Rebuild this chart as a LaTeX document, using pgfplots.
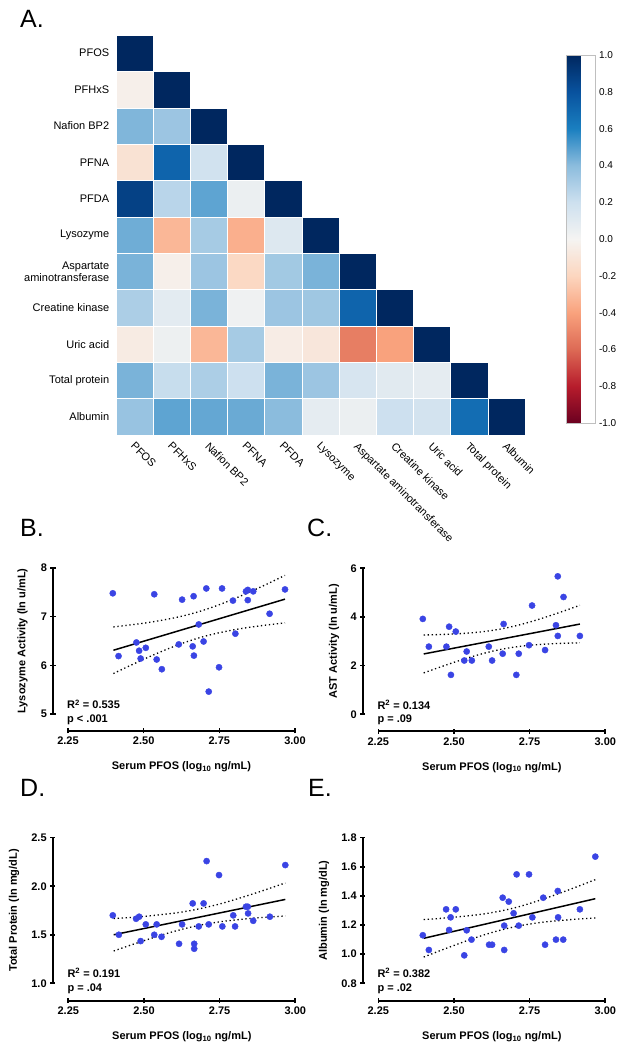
\documentclass[border=0pt]{standalone}
\usepackage{pgfplots}
\pgfplotsset{compat=1.18}
\usepackage{fontspec}
\setmainfont{Liberation Sans}
\definecolor{dotblue}{RGB}{58,68,228}

\pgfplotsset{
  dataax/.style={scale only axis, width=227pt, height=146pt, xmin=2.25, xmax=3.00,
    hide axis, clip=false, anchor=south west},
  common/.style={scale only axis, clip=false, anchor=south west,
    tick align=outside, major tick length=5pt,
    ticklabel style={font=\bfseries\fontsize{11}{13}\selectfont},
    /pgf/number format/assume math mode=true},
  lstyle/.style={axis line style={-, line width=1.8pt, black},
    every outer x axis line/.append style={-}, every outer y axis line/.append style={-},
    every inner x axis line/.append style={-}, every inner y axis line/.append style={-},
    tick style={line width=1.6pt, black}},
  xline/.style={common, width=227pt, height=10pt, xmin=2.25, xmax=3.00, ymin=0, ymax=1,
    axis x line=bottom, hide y axis, lstyle,
    xtick={2.25,2.5,2.75,3},
    xticklabel style={/pgf/number format/.cd, fixed, fixed zerofill, precision=2},
    every axis x label/.style={at={(rel axis cs:0.5,0)}, anchor=center, yshift=-36pt, font=\bfseries\fontsize{11}{13}\selectfont},
    xlabel={Serum PFOS (log\textsubscript{10} ng/mL)}},
  yline/.style={common, width=10pt, height=146pt, xmin=0, xmax=1,
    axis y line=left, hide x axis, lstyle,
    every axis y label/.style={at={(rel axis cs:0,0.5)}, xshift=-#1, rotate=90, anchor=center, font=\bfseries\fontsize{11}{13}\selectfont}},
  pts/.style={only marks, mark=*, mark size=3.1pt, dotblue, mark options={draw=none, fill=dotblue}},
  fit/.style={black, line width=1.5pt, no marks},
  band/.style={black, line width=1.3pt, no marks, dash pattern=on 1.3pt off 2.7pt},
}
\tikzset{rlab/.style={anchor=base west, inner sep=0, font=\bfseries\fontsize{11}{13}\selectfont, xshift=-1pt}}

\begin{document}
\begin{tikzpicture}
\path[use as bounding box] (0pt,0pt) rectangle (624pt,1050pt);

% ---------------- Heatmap ----------------
\begin{axis}[
  at={(115.7pt,1015pt)}, anchor=north west,
  scale only axis, width=409.3pt, height=400pt,
  xmin=-0.5, xmax=10.5, ymin=-0.5, ymax=10.5, y dir=reverse,
  axis line style={draw=none}, tick style={draw=none},
  xtick={0,...,10}, ytick={0,...,10},
  xticklabels={PFOS,PFHxS,Nafion BP2,PFNA,PFDA,Lysozyme,Aspartate aminotransferase,Creatine kinase,Uric acid,Total protein,Albumin},
  yticklabels={PFOS,PFHxS,Nafion BP2,PFNA,PFDA,Lysozyme,{Aspartate\\aminotransferase},Creatine kinase,Uric acid,Total protein,Albumin},
  yticklabel style={align=right, font=\fontsize{11}{12}\selectfont, xshift=-3pt},
  xticklabel style={rotate=-45, anchor=north west, font=\fontsize{11}{12}\selectfont, xshift=2pt},
  colormap={cb}{rgb255(0)=(107,0,32) rgb255(1)=(183,28,44) rgb255(2)=(221,106,85) rgb255(3)=(249,162,125) rgb255(4)=(252,214,191) rgb255(5)=(245,244,242) rgb255(6)=(205,224,239) rgb255(7)=(139,188,221) rgb255(8)=(26,127,192) rgb255(9)=(8,82,158) rgb255(10)=(0,39,95)},
  point meta min=-1, point meta max=1,
  colorbar,
  colorbar style={
    at={(parent axis.north east)}, anchor=north west,
    xshift=33pt, yshift=-20pt,
    width=29pt, height=368pt,
    ytick={-1,-0.8,-0.6,-0.4,-0.2,0,0.2,0.4,0.6,0.8,1},
    yticklabels={-1.0,-0.8,-0.6,-0.4,-0.2,0.0,0.2,0.4,0.6,0.8,1.0},
    yticklabel style={font=\fontsize{10}{12}\selectfont},
    tick style={draw=none},
    axis line style={draw=gray!50, line width=0.3pt},
  },
  clip=false,
]
\addplot[scatter, only marks, mark=square*, mark size=18.6pt,
  mark options={yscale=0.978, line width=0.4pt},
  scatter src=explicit,
  scatter/use mapped color={draw=white, fill=mapped color}]
table[meta=v] {
x y v
0 0 1
0 1 -0.03
1 1 1
0 2 0.42
1 2 0.35
2 2 1
0 3 -0.12
1 3 0.72
2 3 0.18
3 3 1
0 4 0.88
1 4 0.26
2 4 0.48
3 4 0.05
4 4 1
0 5 0.45
1 5 -0.32
2 5 0.32
3 5 -0.35
4 5 0.12
5 5 1
0 6 0.43
1 6 -0.03
2 6 0.35
3 6 -0.18
4 6 0.33
5 6 0.43
6 6 1
0 7 0.30
1 7 0.09
2 7 0.43
3 7 0.03
4 7 0.35
5 7 0.34
6 7 0.72
7 7 1
0 8 -0.06
1 8 0.04
2 8 -0.32
3 8 0.32
4 8 -0.05
5 8 -0.09
6 8 -0.53
7 8 -0.40
8 8 1
0 9 0.43
1 9 0.22
2 9 0.30
3 9 0.20
4 9 0.43
5 9 0.35
6 9 0.15
7 9 0.10
8 9 0.08
9 9 1
0 10 0.36
1 10 0.48
2 10 0.47
3 10 0.46
4 10 0.40
5 10 0.08
6 10 0.05
7 10 0.20
8 10 0.17
9 10 0.68
10 10 1
};
\end{axis}

% ---------------- B: Lysozyme ----------------
\begin{axis}[xline, at={(68pt,319pt)}]\end{axis}
\begin{axis}[yline=30.5pt, at={(53pt,336pt)}, ymin=5, ymax=8, ytick={5,6,7,8},
  ylabel={Lysozyme Activity (ln u/mL)}]\end{axis}
\begin{axis}[dataax, at={(68pt,336pt)}, ymin=5, ymax=8]
\addplot[pts] coordinates {
(2.398,7.48) (2.417,6.19) (2.476,6.47) (2.485,6.30) (2.490,6.14) (2.507,6.36)
(2.535,7.46) (2.543,6.12) (2.560,5.92) (2.616,6.43) (2.627,7.35) (2.662,6.39)
(2.665,7.42) (2.666,6.20) (2.682,6.84) (2.698,6.49) (2.707,7.58) (2.715,5.46)
(2.749,5.96) (2.759,7.58) (2.795,7.33) (2.803,6.65) (2.838,7.52) (2.844,7.55)
(2.844,7.34) (2.862,7.52) (2.916,7.06) (2.967,7.56)};
\addplot[fit] coordinates {(2.40,6.310) (2.967,7.360)};
\addplot[band, smooth] coordinates {(2.40,6.789) (2.45,6.826) (2.50,6.866) (2.55,6.915) (2.60,6.974) (2.65,7.046) (2.70,7.137) (2.75,7.246) (2.80,7.370) (2.85,7.506) (2.90,7.648) (2.967,7.848)};
\addplot[band, smooth] coordinates {(2.40,5.831) (2.45,5.980) (2.50,6.124) (2.55,6.261) (2.60,6.388) (2.65,6.500) (2.70,6.595) (2.75,6.670) (2.80,6.732) (2.85,6.782) (2.90,6.824) (2.967,6.872)};
\node[rlab, yshift=5pt] at (rel axis cs:0,0) {R\textsuperscript{2} = 0.535};
\node[rlab, yshift=-8.5pt] at (rel axis cs:0,0) {p < .001};
\end{axis}

% ---------------- C: AST ----------------
\begin{axis}[xline, at={(378.3pt,318.7pt)}]\end{axis}
\begin{axis}[yline=28.7pt, at={(362.7pt,335.7pt)}, ymin=0, ymax=6, ytick={0,2,4,6},
  ylabel={AST Activity (ln u/mL)}]\end{axis}
\begin{axis}[dataax, at={(378.3pt,335.7pt)}, ymin=0, ymax=6]
\addplot[pts] coordinates {
(2.397,3.92) (2.417,2.78) (2.475,2.78) (2.484,3.60) (2.490,1.62) (2.506,3.40)
(2.534,2.21) (2.542,2.58) (2.559,2.21) (2.615,2.78) (2.626,2.21) (2.661,2.49)
(2.664,3.71) (2.706,1.62) (2.714,2.49) (2.748,2.84) (2.758,4.47) (2.801,2.64)
(2.837,3.66) (2.843,5.67) (2.843,3.22) (2.862,4.82) (2.916,3.22)};
\addplot[fit] coordinates {(2.40,2.480) (2.916,3.708)};
\addplot[band, smooth] coordinates {(2.40,3.260) (2.45,3.276) (2.50,3.301) (2.55,3.340) (2.60,3.402) (2.65,3.495) (2.70,3.625) (2.75,3.790) (2.80,3.981) (2.85,4.189) (2.916,4.479)};
\addplot[band, smooth] coordinates {(2.40,1.700) (2.45,1.922) (2.50,2.135) (2.55,2.334) (2.60,2.510) (2.65,2.655) (2.70,2.763) (2.75,2.836) (2.80,2.883) (2.85,2.913) (2.916,2.937)};
\node[rlab, yshift=5pt] at (rel axis cs:0,0) {R\textsuperscript{2} = 0.134};
\node[rlab, yshift=-8.5pt] at (rel axis cs:0,0) {p = .09};
\end{axis}

% ---------------- D: Total protein ----------------
\begin{axis}[xline, at={(68.3pt,49.3pt)}]\end{axis}
\begin{axis}[yline=38.7pt, at={(52.7pt,66.7pt)}, height=145.6pt, ymin=1, ymax=2.5, ytick={1,1.5,2,2.5},
  yticklabel style={/pgf/number format/.cd, fixed, fixed zerofill, precision=1},
  ylabel={Total Protein (ln mg/dL)}]\end{axis}
\begin{axis}[dataax, at={(68.3pt,66.7pt)}, height=145.6pt, ymin=1, ymax=2.5]
\addplot[pts] coordinates {
(2.397,1.700) (2.417,1.500) (2.474,1.665) (2.484,1.686) (2.489,1.435) (2.506,1.607)
(2.534,1.500) (2.542,1.607) (2.558,1.479) (2.616,1.407) (2.626,1.607) (2.661,1.823)
(2.666,1.407) (2.666,1.356) (2.681,1.586) (2.697,1.823) (2.707,2.259) (2.714,1.607)
(2.748,2.115) (2.759,1.586) (2.795,1.700) (2.801,1.586) (2.837,1.789) (2.843,1.789)
(2.844,1.720) (2.861,1.644) (2.916,1.686) (2.967,2.218)};
\addplot[fit] coordinates {(2.40,1.500) (2.967,1.864)};
\addplot[band, smooth] coordinates {(2.40,1.667) (2.45,1.677) (2.50,1.689) (2.55,1.705) (2.60,1.723) (2.65,1.747) (2.70,1.779) (2.75,1.817) (2.80,1.862) (2.85,1.911) (2.90,1.962) (2.967,2.034)};
\addplot[band, smooth] coordinates {(2.40,1.333) (2.45,1.387) (2.50,1.439) (2.55,1.489) (2.60,1.535) (2.65,1.575) (2.70,1.608) (2.75,1.633) (2.80,1.652) (2.85,1.668) (2.90,1.680) (2.967,1.694)};
\node[rlab, yshift=5.5pt] at (rel axis cs:0,0) {R\textsuperscript{2} = 0.191};
\node[rlab, yshift=-8.5pt] at (rel axis cs:0,0) {p = .04};
\end{axis}

% ---------------- E: Albumin ----------------
\begin{axis}[xline, at={(378.3pt,49.3pt)}]\end{axis}
\begin{axis}[yline=38.7pt, at={(362.7pt,66.7pt)}, height=145.6pt, ymin=0.8, ymax=1.8, ytick={0.8,1.0,1.2,1.4,1.6,1.8},
  yticklabel style={/pgf/number format/.cd, fixed, fixed zerofill, precision=1},
  ylabel={Albumin (ln mg/dL)}]\end{axis}
\begin{axis}[dataax, at={(378.3pt,66.7pt)}, height=145.6pt, ymin=0.8, ymax=1.8]
\addplot[pts] coordinates {
(2.397,1.130) (2.417,1.029) (2.474,1.308) (2.484,1.166) (2.489,1.253) (2.506,1.308)
(2.534,0.992) (2.542,1.164) (2.558,1.100) (2.616,1.065) (2.626,1.065) (2.661,1.388)
(2.666,1.196) (2.666,1.029) (2.681,1.361) (2.697,1.281) (2.707,1.548) (2.714,1.196)
(2.748,1.548) (2.759,1.253) (2.795,1.388) (2.801,1.065) (2.837,1.100) (2.843,1.434)
(2.844,1.253) (2.861,1.100) (2.916,1.308) (2.967,1.670)};
\addplot[fit] coordinates {(2.40,1.109) (2.967,1.381)};
\addplot[band, smooth] coordinates {(2.40,1.238) (2.45,1.245) (2.50,1.254) (2.55,1.264) (2.60,1.277) (2.65,1.295) (2.70,1.318) (2.75,1.348) (2.80,1.382) (2.85,1.419) (2.90,1.458) (2.967,1.512)};
\addplot[band, smooth] coordinates {(2.40,0.980) (2.45,1.021) (2.50,1.060) (2.55,1.098) (2.60,1.133) (2.65,1.163) (2.70,1.188) (2.75,1.207) (2.80,1.221) (2.85,1.231) (2.90,1.240) (2.967,1.249)};
\node[rlab, yshift=5.5pt] at (rel axis cs:0,0) {R\textsuperscript{2} = 0.382};
\node[rlab, yshift=-8.5pt] at (rel axis cs:0,0) {p = .02};
\end{axis}

% ---------------- Panel letters ----------------
\node[anchor=base west, inner sep=0, font=\fontsize{25}{30}\selectfont] at (20pt,1022pt) {A.};
\node[anchor=base west, inner sep=0, font=\fontsize{25}{30}\selectfont] at (20pt,513pt) {B.};
\node[anchor=base west, inner sep=0, font=\fontsize{25}{30}\selectfont] at (307pt,513pt) {C.};
\node[anchor=base west, inner sep=0, font=\fontsize{25}{30}\selectfont] at (20pt,253pt) {D.};
\node[anchor=base west, inner sep=0, font=\fontsize{25}{30}\selectfont] at (308pt,253pt) {E.};
\end{tikzpicture}
\end{document}
